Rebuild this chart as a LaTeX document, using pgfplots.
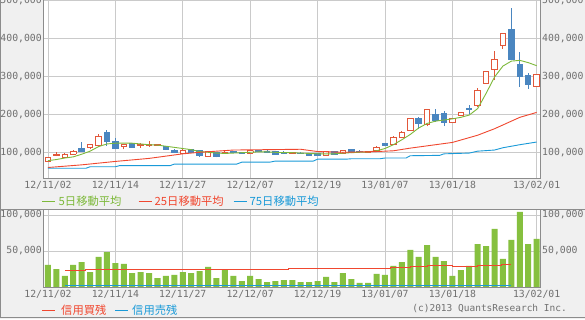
\documentclass[border=0pt]{standalone}
\usepackage{pgfplots}
\pgfplotsset{compat=1.18}
\usepackage{pgfplotstable}
\usepackage{fontspec}
\setmainfont{DejaVu Sans Mono}
\newfontfamily\jp{Noto Sans CJK JP}
\newfontfamily\mono{DejaVu Sans Mono}
\definecolor{bg}{HTML}{F0F0F0}
\definecolor{gridc}{HTML}{CACACA}
\definecolor{axc}{HTML}{8C8C8C}
\definecolor{tickc}{HTML}{707070}
\definecolor{cred}{HTML}{E2573A}
\definecolor{cblue}{HTML}{4A86C0}
\definecolor{magreen}{HTML}{7DB93A}
\definecolor{mared}{HTML}{F0472F}
\definecolor{mablue}{HTML}{1A9AD8}
\definecolor{volg}{HTML}{86C03F}

% prices in thousands of yen: low, body bottom, body top, high
\pgfplotstableread{
x L B T H
0 75 77 87 88
1 90 93 94 101
2 86 87 94 97
3 94 95 103 107
5 108 112 121 122
6 115 118 141 148
9 108 116 122 123
11 112 117 122 124
12 115 119 121 129
13 117 119 121 123
16 96 97 104 108
19 88 90 101 104
21 96 98 100 105
24 96 98 104 106
29 96 98 99 100
33 91 92 102 104
35 96 97 105 106
38 99 100 101 103
39 103 104 113 116
41 120 121 139 143
42 137 138 151 156
43 157 158 188 190
45 168 173 213 214
48 178 179 188 190
49 196 198 205 207
51 220 222 263 268
52 280 282 313 314
53 290 318 345 367
54 372 380 413 415
58 273 274 304 306
}\upc

\pgfplotstableread{
x L B T H
4 101 103 111 127
7 117 129 153 159
8 108 111 129 138
10 113 114 124 125
14 106 108 115 117
15 98 99 106 108
17 97 99 108 110
18 88 91 104 106
20 87 89 99 100
22 97 99 101 104
23 97 98 100 102
25 100 102 104 106
26 98 99 103 105
27 94 95 101 102
28 95 97 99 104
30 96 97 98 101
31 91 92 97 99
32 90 92 97 98
34 93 94 101 102
36 97 99 107 109
37 100 101 103 105
40 116 117 124 125
44 161 175 190 194
46 180 185 200 215
47 169 179 202 209
50 201 214 216 224
55 342 344 422 480
56 273 299 331 363
57 267 279 301 310
}\dnc

% bars in thousands
\pgfplotstableread{
x v
0 30.6
1 25.0
2 15.3
3 30.6
4 34.7
5 20.8
6 41.7
7 48.6
8 33.3
9 32.0
10 19.4
11 20.8
12 19.4
13 12.5
14 15.3
15 16.7
16 20.8
17 19.4
18 22.2
19 27.8
20 12.5
21 25.0
22 15.3
23 8.3
24 15.3
25 11.1
26 6.9
27 8.3
28 9.7
29 9.7
30 6.9
31 6.9
32 8.3
33 13.9
34 6.9
35 19.4
36 11.1
37 5.6
38 5.6
39 18.1
40 16.7
41 29.2
42 34.7
43 51.4
44 41.7
45 58.3
46 41.7
47 36.1
48 15.3
49 23.6
50 29.2
51 59.7
52 56.9
53 80.6
54 38.9
55 65.3
56 104.2
57 59.7
58 66.7
}\vol

\pgfplotsset{
  panel/.style={
    scale only axis, width=497pt, xmin=-0.59, xmax=58.4,
    enlargelimits=false,
    axis line style={draw=none},
    major tick length=0pt,
    xtick={0,8,16,24,32,40,48,58},
    xticklabels={12/11/02,12/11/14,12/11/27,12/12/07,12/12/19,13/01/07,13/01/18,13/02/01},
    tick label style={font=\mono\fontsize{9.8}{10}\selectfont, text=tickc},
    yticklabel style={inner xsep=1pt},
  },
  toppanel/.style={panel, height=178pt, ymin=32.4, ymax=500.8,
    ytick={100,200,300,400,500},
    yticklabels={{100,000},{200,000},{300,000},{400,000},{500,000}}},
  botpanel/.style={panel, height=78pt, ymin=0, ymax=108.333,
    ytick={50,100},
    yticklabels={{50,000},{100,000}}},
  vbar/.style 2 args={draw=none, no markers, forget plot,
    /pgfplots/error bars/y dir=plus, /pgfplots/error bars/y explicit,
    /pgfplots/error bars/error mark=none,
    /pgfplots/error bars/error bar style={draw=#1, line width=#2, solid}},
  hbar/.style={draw=none, no markers, forget plot,
    /pgfplots/error bars/x dir=both, /pgfplots/error bars/x fixed=0.385,
    /pgfplots/error bars/error mark=none,
    /pgfplots/error bars/error bar style={draw=#1, line width=0.9pt, solid}},
}

\begin{document}
\begin{tikzpicture}[x=1pt,y=1pt]
\useasboundingbox (0,0) rectangle (585,319);
\fill[bg] (0,0) rectangle (585,319);

% ---------- upper panel ----------
\begin{axis}[toppanel, name=top, at={(43pt,141pt)}, anchor=south west,
  axis background/.style={fill=white},
  grid=major, grid style={gridc, line width=0.9pt}]
% falling candles
\addplot[vbar={cblue}{0.9pt}] table[x=x, y=L, y error expr=\thisrow{H}-\thisrow{L}] {\dnc};
\addplot[vbar={cblue}{6.5pt}] table[x=x, y=B, y error expr=\thisrow{T}-\thisrow{B}] {\dnc};
\addplot[hbar=cblue] table[x=x, y=B] {\dnc};
\addplot[hbar=cblue] table[x=x, y=T] {\dnc};
% rising candles
\addplot[vbar={cred}{0.9pt}] table[x=x, y=L, y error expr=\thisrow{H}-\thisrow{L}] {\upc};
\addplot[vbar={white}{5.6pt}] table[x=x, y=B, y error expr=\thisrow{T}-\thisrow{B}] {\upc};
\addplot[vbar={cred}{0.9pt}] table[x expr=\thisrow{x}-0.333, y=B, y error expr=\thisrow{T}-\thisrow{B}] {\upc};
\addplot[vbar={cred}{0.9pt}] table[x expr=\thisrow{x}+0.333, y=B, y error expr=\thisrow{T}-\thisrow{B}] {\upc};
\addplot[hbar=cred] table[x=x, y=B] {\upc};
\addplot[hbar=cred] table[x=x, y=T] {\upc};
% moving averages
\addplot[magreen, line width=0.9pt] coordinates {(0,78)(1,81)(2,85)(3,88)(4,95)(5,103)(6,115)(7,122)(8,124)(9,124)(10,124)(11,122)(12,120)(13,119)(14,116)(15,113)(16,110)(17,107)(18,102)(19,100)(20,98)(21,97)(22,98)(23,99)(24,100)(25,101)(26,101)(27,100)(28,99)(29,99)(30,98)(31,97)(32,96)(33,96)(34,96)(35,98)(36,99)(37,100)(38,101)(39,104)(40,110)(41,120)(42,133)(43,147)(44,164)(45,176)(46,182)(47,185)(48,188)(49,192)(50,198)(51,215)(52,255)(53,298)(54,327)(55,340)(56,342)(57,336)(58,328)};
\addplot[mared, line width=0.9pt] coordinates {(0,60)(4,67)(8,76)(12,84)(16,96)(18,100)(20,103)(22,106)(26,107)(30,108)(31,105)(32,102)(35,100)(39,102)(41,104)(43,111)(45,117)(48,126)(51,145)(53,162)(56,192)(58,205)};
\addplot[mablue, line width=0.9pt] coordinates {(0,58)(4.5,58)(5,62)(8,62)(8.5,65)(14.5,65)(15,69)(22.4,69)(23,74)(26.3,74)(27,77)(31.5,77)(32,82)(35.4,82)(36,83)(39.4,83)(40,85)(42.5,85)(43,91)(46.5,92)(47,96)(50,98)(51,103)(53,106)(54,112)(56,120)(58,127)};
\end{axis}
\begin{axis}[toppanel, at={(43pt,141pt)}, anchor=south west,
  xtick=\empty, yticklabel pos=right, yticklabel style={inner xsep=2pt}]
\end{axis}

% ---------- lower panel ----------
\begin{axis}[botpanel, name=bot, at={(43pt,32pt)}, anchor=south west,
  axis background/.style={fill=white},
  grid=major, grid style={gridc, line width=0.9pt}]
\addplot[ybar, bar width=6pt, fill=volg, draw=none] table[x=x, y=v] {\vol};
\addplot[mared, line width=0.9pt, const plot mark left] coordinates {(2,23.1)(4.5,24.3)(14,25.0)(28.5,26.2)(40.7,27.3)(43,28.2)(45,30.0)(48,28.7)(51,30.0)(53.8,31.5)(55,31.5)};
\addplot[mablue, line width=0.9pt, const plot mark left] coordinates {(2,2.3)(20,2.3)(40,2.3)(55,2.3)};
\end{axis}
\begin{axis}[botpanel, at={(43pt,32pt)}, anchor=south west,
  xtick=\empty, yticklabel pos=right, yticklabel style={inner xsep=2pt}]
\end{axis}

% ---------- frames ----------
\draw[axc, line width=1pt] (43,319) -- (43,141) -- (540,141) -- (540,319);
\draw[axc, line width=1pt] (0,110) -- (585,110);
\draw[axc, line width=1pt] (43,110) -- (43,32) -- (540,32) -- (540,110);
\draw[axc, line width=1pt] (0.5,319) -- (0.5,1.5) -- (585,1.5);

% ---------- legends ----------
\begin{scope}[every node/.style={anchor=west, inner sep=0pt, font=\jp\fontsize{11.3}{12}\selectfont}]
\draw[magreen, line width=1pt] (42,118) -- (55,118);
\node[text=magreen] at (58.5,118) {5日移動平均};
\draw[mared, line width=1pt] (138.5,118) -- (151.5,118);
\node[text=mared] at (154.5,118) {25日移動平均};
\draw[mablue, line width=1pt] (233.5,118) -- (246.5,118);
\node[text=mablue] at (249.5,118) {75日移動平均};
\draw[mared, line width=1pt] (42,9) -- (55,9);
\node[text=mared] at (61,9) {信用買残};
\draw[mablue, line width=1pt] (115,9) -- (128,9);
\node[text=mablue] at (132,9) {信用売残};
\end{scope}
\node[anchor=east, inner sep=0pt, text=tickc, font=\mono\fontsize{9.5}{10}\selectfont] at (567,10) {(c)2013 QuantsResearch Inc.};
\end{tikzpicture}
\end{document}
